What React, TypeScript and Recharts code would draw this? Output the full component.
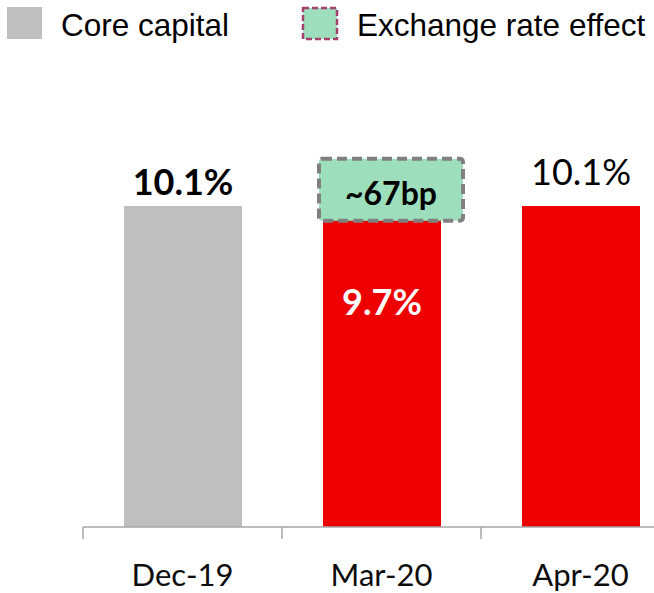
import React from "react";
import { BarChart, Bar, XAxis, YAxis, Cell, LabelList, Legend } from "recharts";

const periods = ["Dec-19", "Mar-20", "Apr-20"];
const coreCapital = [10.1, 9.7, 10.1];
const fxEffect = [null, 0.67, null];
const fxLabels = [null, "~67bp", null];
const legendNames = ["Core capital", "Exchange rate effect"];

const data = periods.map((period, i) => ({
  period,
  core: coreCapital[i],
  fx: fxEffect[i],
  fxLabel: fxLabels[i],
}));

const CHART_W = 700;
const CHART_H = 593;
const X_AXIS_H = 30;
// plot area runs from y=82 to y=527
const MARGIN = { top: 82, right: 20, bottom: 66 - X_AXIS_H, left: 83 };
const HALF_BAND = (CHART_W - MARGIN.left - MARGIN.right) / periods.length / 2;

const GREY = "#bfbfbf";
const RED = "#ee0000";
const GREEN = "#9ddfbd";
const AXIS = "#a6a6a6";
const barColors = [GREY, RED, RED];

// label look per bar: above (bold), inside (white), above (regular)
const coreLabelStyles = [
  { fill: "#000", weight: 700, dy: -11 },
  { fill: "#fff", weight: 700, dy: 96 },
  { fill: "#000", weight: 400, dy: -21 },
];

const LABEL_FONT = "Lato, 'Open Sans', sans-serif";
const LEGEND_FONT = "'Liberation Sans', Arial, sans-serif";

function PeriodTick(props: any) {
  const { x, y, payload } = props;
  return (
    <g>
      <line x1={x - HALF_BAND} x2={x - HALF_BAND} y1={y} y2={y + 12} stroke={AXIS} strokeWidth={1.5} />
      <text x={x} y={y + 59} textAnchor="middle" fontFamily={LABEL_FONT} fontSize={31} fill="#0d0d0d">
        {payload.value}
      </text>
    </g>
  );
}

function renderCoreLabel(props: any) {
  const vb = props.viewBox ?? props;
  const { index, value } = props;
  const s = coreLabelStyles[index] ?? coreLabelStyles[0];
  return (
    <text
      x={vb.x + vb.width / 2}
      y={vb.y + s.dy}
      textAnchor="middle"
      fontFamily={LABEL_FONT}
      fontSize={36}
      fontWeight={s.weight}
      fill={s.fill}
    >
      {`${Number(value).toFixed(1)}%`}
    </text>
  );
}

function renderFxLabel(props: any) {
  const vb = props.viewBox ?? props;
  if (!props.value) return null;
  return (
    <text
      x={vb.x + vb.width / 2 + 9}
      y={vb.y + vb.height - 14}
      textAnchor="middle"
      fontFamily={LABEL_FONT}
      fontSize={32}
      fontWeight={700}
      fill="#000"
    >
      {props.value}
    </text>
  );
}

// annotation box drawn around the exchange-rate segment
function FxBox(props: any) {
  const { x, y, width, height } = props;
  if (!height || Math.abs(height) < 0.5) return null;
  const base = y + height;
  return (
    <g>
      <rect x={x} y={base - 0.5} width={width} height={3} fill="#8b4a1e" />
      <rect
        x={x - 4}
        y={base - 60}
        width={width + 26}
        height={62}
        rx={3}
        fill={GREEN}
        stroke="#808080"
        strokeWidth={4}
        strokeDasharray="10 5"
      />
    </g>
  );
}

function LegendContent() {
  return (
    <svg width={654} height={50}>
      <rect x={7} y={7} width={35} height={32} fill={GREY} />
      <text x={61} y={36} fontFamily={LEGEND_FONT} fontSize={31.5} fill="#000">
        {legendNames[0]}
      </text>
      <rect
        x={303}
        y={8}
        width={34}
        height={31}
        fill={GREEN}
        stroke="#a3406e"
        strokeWidth={2.5}
        strokeDasharray="6 3"
      />
      <text x={357} y={36} fontFamily={LEGEND_FONT} fontSize={31.5} fill="#000">
        {legendNames[1]}
      </text>
    </svg>
  );
}

export default function App() {
  return (
    <div
      style={{
        position: "absolute",
        left: 0,
        top: 0,
        width: 654,
        height: 593,
        overflow: "hidden",
        background: "#fff",
      }}
    >
      <BarChart width={CHART_W} height={CHART_H} data={data} margin={MARGIN}>
        <XAxis
          dataKey="period"
          height={X_AXIS_H}
          axisLine={{ stroke: AXIS, strokeWidth: 1.5 }}
          tickLine={false}
          tickSize={0}
          tickMargin={0}
          interval={0}
          tick={<PeriodTick />}
        />
        <YAxis hide domain={[0, 14]} />
        <Legend
          layout="vertical"
          verticalAlign="middle"
          align="center"
          wrapperStyle={{ top: 0, left: 0, width: 654, height: 50 }}
          content={<LegendContent />}
        />
        <Bar dataKey="core" stackId="a" barSize={118} name={legendNames[0]} isAnimationActive={false}>
          {data.map((d, i) => (
            <Cell key={d.period} fill={barColors[i]} />
          ))}
          <LabelList dataKey="core" content={renderCoreLabel} />
        </Bar>
        <Bar
          dataKey="fx"
          stackId="a"
          barSize={118}
          name={legendNames[1]}
          fill={GREEN}
          shape={FxBox}
          isAnimationActive={false}
        >
          <LabelList dataKey="fxLabel" content={renderFxLabel} />
        </Bar>
      </BarChart>
    </div>
  );
}
